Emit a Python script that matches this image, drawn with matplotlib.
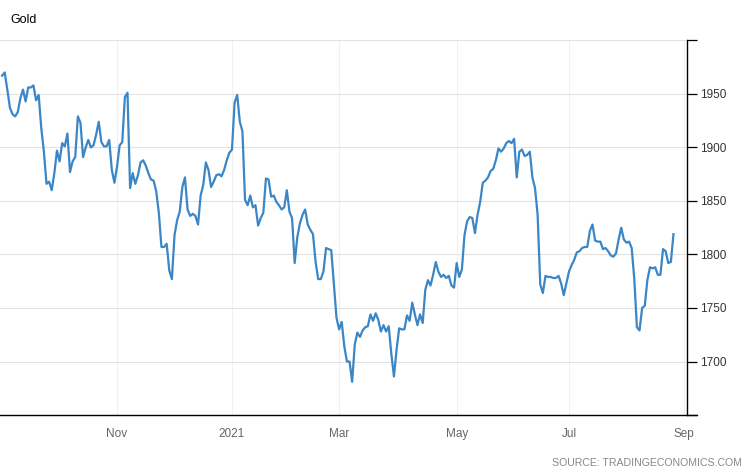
import numpy as np
import pandas as pd
import matplotlib
matplotlib.use('Agg')
import matplotlib.pyplot as plt

plt.rcParams['font.family'] = ['Liberation Sans', 'DejaVu Sans']

# Precio diario del oro (USD/oz), un valor por día hábil desde el 1-sep-2020.
start = '2020-09-01'
prices = [
    1967, 1970, 1954, 1937, 1931, 1929, 1933, 1946, 1954, 1943,
    1956, 1956, 1958, 1944, 1949, 1918, 1896, 1866, 1868, 1860,
    1876, 1897, 1887, 1904, 1901, 1913, 1877, 1887, 1891, 1929,
    1923, 1891, 1900, 1907, 1900, 1902, 1912, 1924, 1905, 1901,
    1901, 1907, 1879, 1867, 1882, 1902, 1905, 1947, 1951, 1862,
    1876, 1866, 1874, 1886, 1888, 1883, 1876, 1870, 1869, 1859,
    1839, 1807, 1807, 1810, 1785, 1777, 1818, 1832, 1840, 1863,
    1872, 1842, 1836, 1838, 1836, 1828, 1855, 1865, 1886, 1879,
    1863, 1868, 1874, 1875, 1873, 1879, 1888, 1895, 1898, 1942,
    1949, 1924, 1915, 1851, 1846, 1855, 1844, 1846, 1827, 1834,
    1839, 1871, 1870, 1854, 1855, 1849, 1846, 1842, 1844, 1860,
    1840, 1834, 1792, 1816, 1829, 1837, 1842, 1828, 1823, 1819,
    1793, 1777, 1777, 1784, 1806, 1805, 1804, 1772, 1741, 1730,
    1737, 1714, 1700, 1700, 1681, 1716, 1727, 1723, 1729, 1732,
    1733, 1744, 1738, 1745, 1739, 1728, 1734, 1728, 1733, 1707,
    1686, 1711, 1731, 1730, 1730, 1743, 1738, 1755, 1744, 1734,
    1744, 1736, 1767, 1776, 1771, 1781, 1793, 1784, 1779, 1781,
    1778, 1780, 1771, 1769, 1792, 1779, 1786, 1818, 1831, 1835,
    1834, 1820, 1837, 1849, 1867, 1869, 1872, 1878, 1880, 1888,
    1899, 1896, 1899, 1904, 1906, 1904, 1908, 1872, 1896, 1898,
    1892, 1893, 1896, 1872, 1862, 1837, 1772, 1764, 1780, 1779,
    1779, 1778, 1778, 1780, 1773, 1762, 1773, 1784, 1790, 1795,
    1802, 1803, 1806, 1807, 1807, 1822, 1828, 1813, 1812, 1812,
    1805, 1806, 1803, 1799, 1798, 1801, 1814, 1825, 1814, 1811,
    1812, 1806, 1777, 1732, 1729, 1750, 1752, 1776, 1788, 1787,
    1788, 1781, 1781, 1805, 1803, 1792, 1793, 1819,
]
tick_months = ['2020-11', '2021-01', '2021-03', '2021-05', '2021-07', '2021-09']
y_ticks = [1650, 1700, 1750, 1800, 1850, 1900, 1950, 2000]

# Eje de días hábiles (se alarga hasta septiembre para la última marca).
days = pd.bdate_range(start, '2021-09-06')
x = np.arange(len(prices))

tick_pos = []
tick_lab = []
for m in tick_months:
    p = pd.Period(m)
    idx = np.where(days.to_period('M') == p)[0][0]
    tick_pos.append(idx)
    tick_lab.append(str(p.year) if p.month == 1 else p.strftime('%b'))

fig = plt.figure(figsize=(7.46, 4.68), dpi=100)
ax = fig.add_axes([0.0, 0.1132, 0.921, 0.8005])

ax.plot(x, prices, color='#3b86c6', lw=1.6, solid_joinstyle='round')

ax.set_xlim(-0.8, 262.2)
ax.set_ylim(1650, 2000)

ax.set_xticks(tick_pos)
ax.set_xticklabels(tick_lab)
ax.set_yticks(y_ticks)
ax.set_yticklabels(['' if v in (1650, 2000) else str(v) for v in y_ticks])

ax.yaxis.tick_right()
ax.tick_params(axis='y', direction='out', length=7, width=0.9, color='black',
               labelsize=8.5, labelcolor='#333333', pad=2)
ax.tick_params(axis='x', length=0, labelsize=8.5, labelcolor='#666666', pad=9)

ax.grid(axis='y', color='#e2e2e2', lw=0.8)
ax.grid(axis='x', color='#f0f0f0', lw=0.8)
ax.set_axisbelow(True)

for side in ('top', 'left'):
    ax.spines[side].set_visible(False)
ax.spines['right'].set_color('black')
ax.spines['right'].set_linewidth(1.0)
ax.spines['bottom'].set_color('black')
ax.spines['bottom'].set_linewidth(1.0)
ax.spines['bottom'].set_bounds(-0.8, 266)

fig.text(10 / 746, 1 - 20 / 468, 'Gold', fontsize=9, color='black', va='center', ha='left')
fig.text(742 / 746, 1 - 463 / 468, 'SOURCE: TRADINGECONOMICS.COM', fontsize=7.6,
         color='#888888', va='center', ha='right')

fig.savefig('out.png', dpi=100)
